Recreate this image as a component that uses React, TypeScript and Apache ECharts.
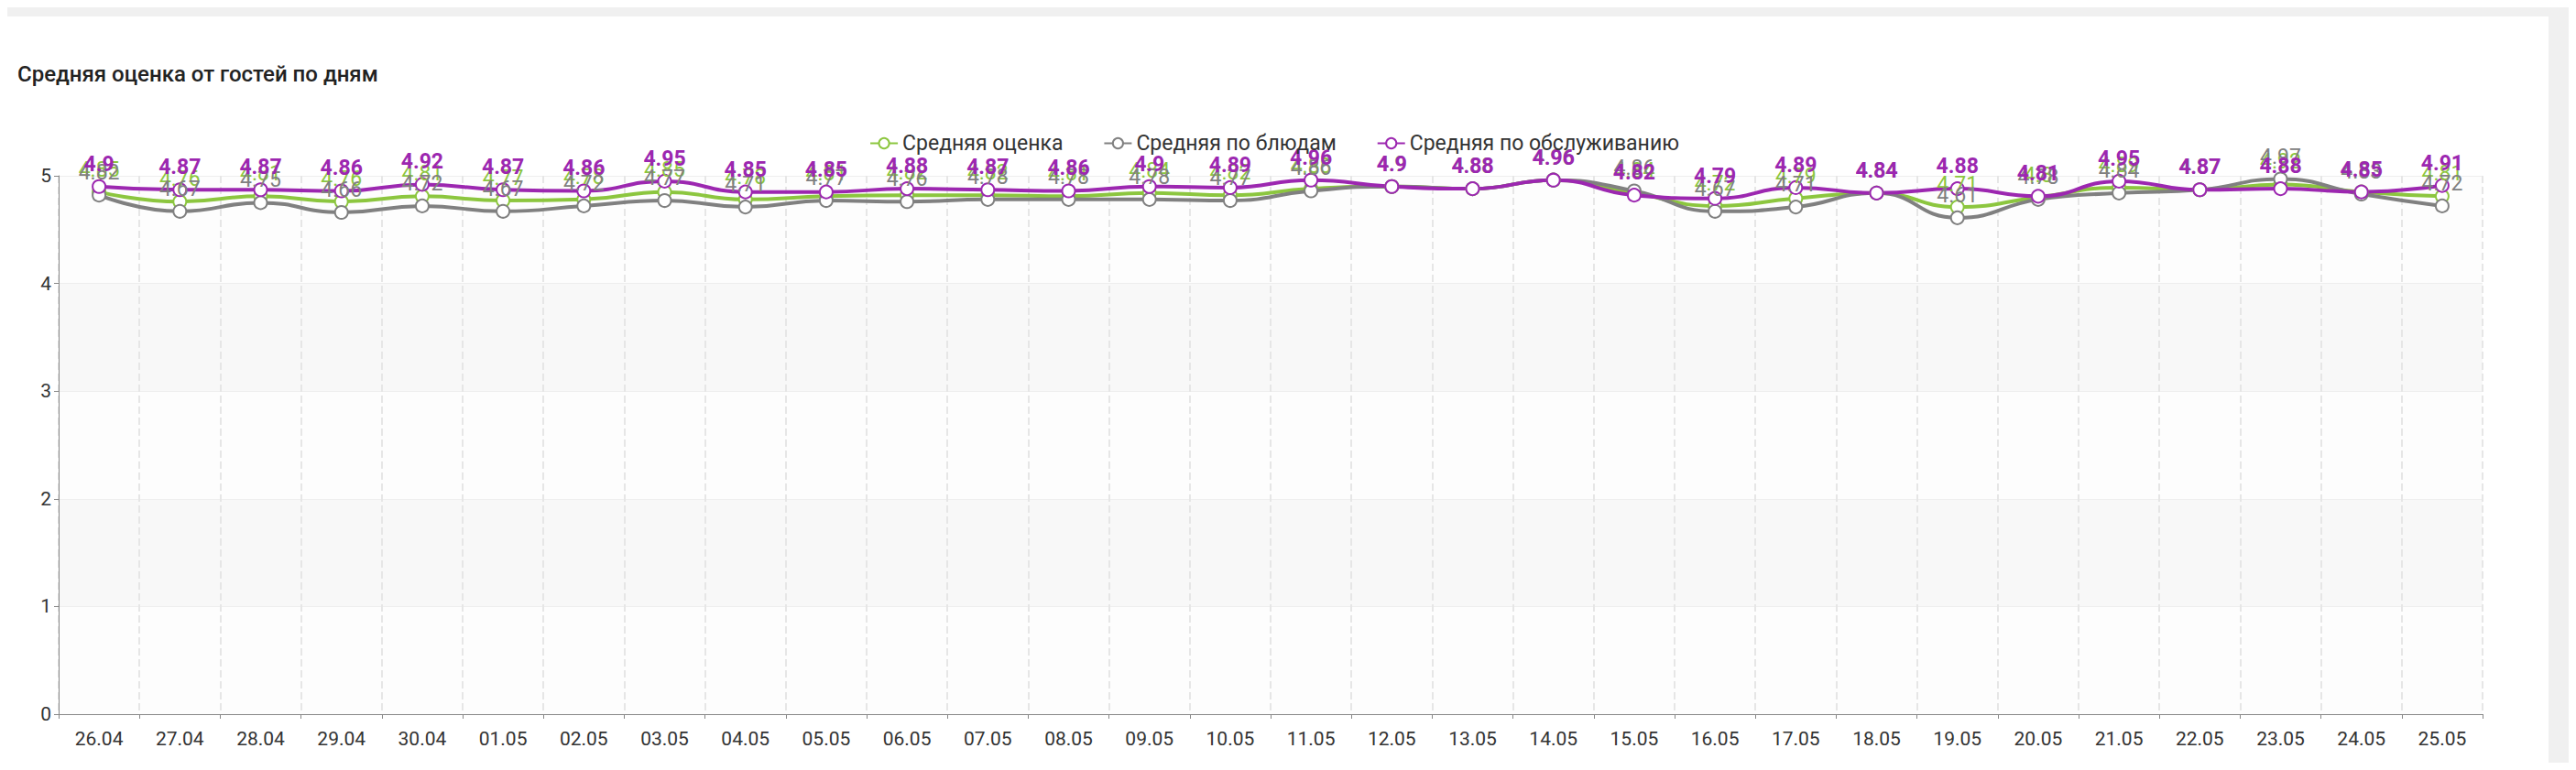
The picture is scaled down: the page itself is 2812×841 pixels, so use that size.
import * as echarts from 'echarts'
import { useEffect, useRef } from 'react'

const days = ['26.04','27.04','28.04','29.04','30.04','01.05','02.05','03.05','04.05','05.05','06.05','07.05','08.05','09.05','10.05','11.05','12.05','13.05','14.05','15.05','16.05','17.05','18.05','19.05','20.05','21.05','22.05','23.05','24.05','25.05']
const avgAll = [4.85,4.76,4.81,4.76,4.81,4.77,4.78,4.85,4.78,4.81,4.82,4.82,4.81,4.84,4.82,4.88,4.9,4.88,4.96,4.84,4.72,4.79,4.84,4.71,4.8,4.89,4.87,4.92,4.85,4.81]
const avgDishes = [4.82,4.67,4.75,4.66,4.72,4.67,4.72,4.77,4.71,4.77,4.76,4.78,4.78,4.78,4.77,4.86,4.9,4.88,4.96,4.86,4.67,4.71,4.84,4.61,4.78,4.84,4.87,4.97,4.83,4.72]
const avgService = [4.9,4.87,4.87,4.86,4.92,4.87,4.86,4.95,4.85,4.85,4.88,4.87,4.86,4.9,4.89,4.96,4.9,4.88,4.96,4.82,4.79,4.89,4.84,4.88,4.81,4.95,4.87,4.88,4.85,4.91]

const mk = (name: string, data: number[], color: string, bold = false) => ({
  name,
  type: 'line',
  data,
  smooth: true,
  symbol: 'emptyCircle',
  symbolSize: 14,
  lineStyle: { width: 4, color },
  itemStyle: { color, borderWidth: 3 },
  label: { show: true, position: 'top', color, fontSize: 23, fontWeight: bold ? 'bold' : 'normal', fontFamily: 'Roboto' },
})

const App = () => {
  const ref = useRef<HTMLDivElement>(null)
  useEffect(() => {
    if (!ref.current) return
    const chart = echarts.init(ref.current, undefined, { renderer: 'svg' })
    chart.setOption({
      animation: false,
      textStyle: { fontFamily: 'Roboto' },
      title: { text: 'Средняя оценка от гостей по дням', left: 14, top: 46, textStyle: { fontSize: 24, fontWeight: 500, color: '#222' } },
      legend: {
        top: 122, left: 'center', itemWidth: 30, itemHeight: 14, itemGap: 44,
        textStyle: { fontSize: 23, color: '#333' },
        data: ['Средняя оценка', 'Средняя по блюдам', 'Средняя по обслуживанию'],
      },
      grid: { left: 64, right: 72, top: 174, bottom: 61 },
      xAxis: {
        type: 'category', data: days,
        axisLine: { lineStyle: { color: '#888' } },
        axisTick: { show: true, lineStyle: { color: '#888' } },
        axisLabel: { fontSize: 21, color: '#333', margin: 16 },
        splitLine: { show: true, lineStyle: { type: 'dashed', color: '#e6e6e6', width: 2 } },
      },
      yAxis: {
        type: 'value', min: 0, max: 5, interval: 1,
        axisLine: { show: true, lineStyle: { color: '#888' } },
        axisTick: { show: true },
        axisLabel: { fontSize: 21, color: '#333' },
        splitLine: { lineStyle: { color: '#eee' } },
        splitArea: { show: true, areaStyle: { color: ['#fdfdfd', '#f8f8f8'] } },
      },
      series: [
        mk('Средняя оценка', avgAll, '#8cc63f'),
        mk('Средняя по блюдам', avgDishes, '#808080'),
        mk('Средняя по обслуживанию', avgService, '#9c27b0', true),
      ],
    })
    return () => chart.dispose()
  }, [])
  return (
    <div style={{ background: '#f0f0f0', margin: -8, paddingTop: 18, paddingRight: 30, height: 823 }}>
      <div ref={ref} style={{ width: 2782, height: 823, background: '#fff' }} />
    </div>
  )
}

export default App
